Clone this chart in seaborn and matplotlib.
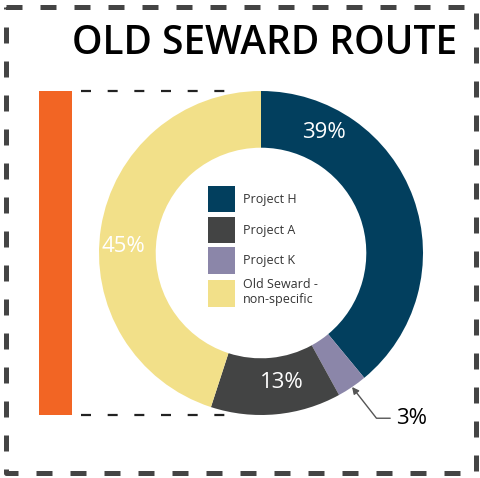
import matplotlib
matplotlib.use("Agg")
import matplotlib.pyplot as plt
import seaborn as sns
import numpy as np
from matplotlib.patches import Rectangle
from matplotlib.lines import Line2D

# ---- data (clockwise from 12 o'clock) ----
categories = ["Project H", "Project K", "Project A", "Old Seward -\nnon-specific"]
values = [39, 3, 13, 45]
colors = ["#023f5e", "#8b86a9", "#434444", "#f2e089"]
legend_order = ["Project H", "Project A", "Project K", "Old Seward -\nnon-specific"]
title = "OLD SEWARD ROUTE"

sns.set_theme(style="white")
plt.rcParams["font.family"] = ["Open Sans", "DejaVu Sans"]

fig = plt.figure(figsize=(4.81, 4.78), dpi=100)
W, H = 481, 478
cx, cy, R = 261, 253, 162
ax = fig.add_axes([(cx - R) / W, (H - cy - R) / H, 2 * R / W, 2 * R / H])

wedges, texts, autotexts = ax.pie(
    values, colors=colors, startangle=90, counterclock=False, radius=1,
    wedgeprops=dict(width=0.35, linewidth=0),
    autopct=lambda p: f"{p:.0f}%" if p > 5 else "", pctdistance=0.83,
    textprops=dict(color="white", fontsize=16))
ax.set_xlim(-1, 1)
ax.set_ylim(-1, 1)
ax.set_aspect("equal")
ax.axis("off")

# label placement tweaks (angle in degrees, radius)
label_pos = {0: (62.5, 0.84), 2: (-80.8, 0.81), 3: (177.5, 0.85)}
for i, (ang, rr) in label_pos.items():
    a = np.deg2rad(ang)
    autotexts[i].set_position((rr * np.cos(a), rr * np.sin(a)))
    autotexts[i].set_ha("center")
    autotexts[i].set_va("center")

# small slice callout
k = 1
theta = np.deg2rad((wedges[k].theta1 + wedges[k].theta2) / 2)
ax.annotate(f"{values[k]}%", xy=(np.cos(theta), np.sin(theta)),
            xytext=(0.835, -1.02), fontsize=16, color="black",
            ha="left", va="center",
            arrowprops=dict(arrowstyle="-|>", color="#555555", lw=1.0,
                            shrinkA=2, shrinkB=0, mutation_scale=10,
                            connectionstyle="angle,angleA=180,angleB=128,rad=0"))

# orange bar and dashed guide lines
ax.add_patch(Rectangle((-1.37, -1), 0.205, 2, color="#f26524", clip_on=False, lw=0))
for yy in (1, -1):
    ax.plot([-1.11, -0.17], [yy, yy], color="#222222", lw=1.6,
            linestyle=(0, (4.5, 7.5)), clip_on=False)

# legend
handles = [wedges[categories.index(c)] for c in legend_order]
fig.legend(handles, legend_order, loc="upper left",
           bbox_to_anchor=(208 / W, 1 - 186 / H), bbox_transform=fig.transFigure,
           frameon=False, fontsize=9, handlelength=2.16, handleheight=2.85,
           handletextpad=0.62, labelspacing=0.36, borderpad=0, borderaxespad=0,
           labelcolor="#333333")

# title
fig.text(265 / W, 1 - 44 / H, title, ha="center", va="center",
         fontsize=28, color="black", fontweight="semibold")

# dashed border
xs = np.array([6, 476, 476, 6, 6]) / W
ys = 1 - np.array([7, 7, 473, 473, 7]) / H
fig.add_artist(Line2D(xs, ys, transform=fig.transFigure, color="#444444",
                      lw=3.6, linestyle=(0, (3.2, 3.6)), solid_capstyle="butt"))

fig.savefig("out.png", dpi=100)
